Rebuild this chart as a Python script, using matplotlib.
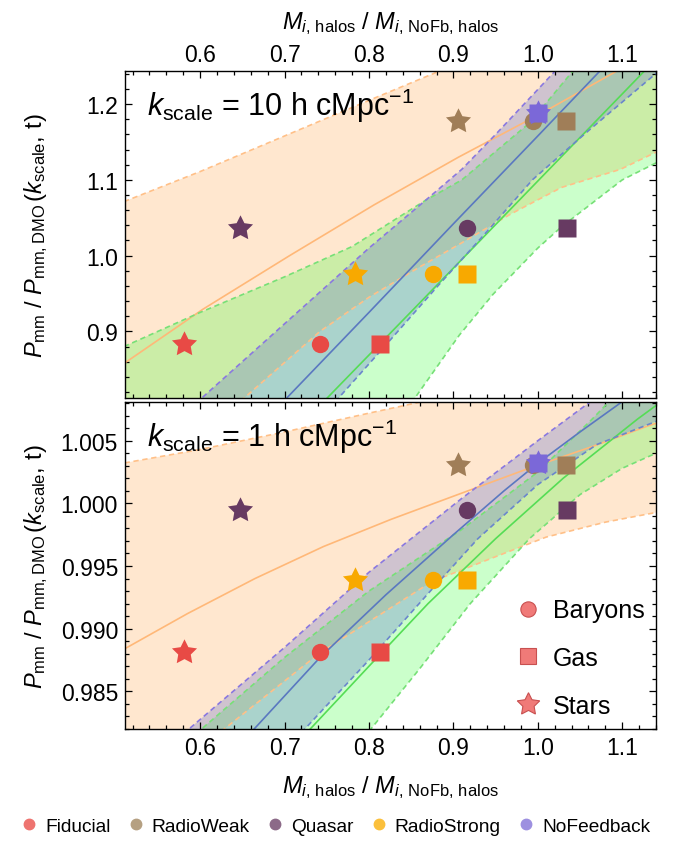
import matplotlib

matplotlib.use("Agg")
import matplotlib.pyplot as plt  # noqa: E402
from matplotlib.lines import Line2D  # noqa: E402
from matplotlib.ticker import MultipleLocator, FormatStrFormatter  # noqa: E402

plt.rcParams["font.family"] = ["Liberation Sans", "DejaVu Sans"]
plt.rcParams["mathtext.fontset"] = "custom"
plt.rcParams["mathtext.rm"] = "Liberation Sans"
plt.rcParams["mathtext.it"] = "Liberation Sans:italic"
plt.rcParams["mathtext.bf"] = "Liberation Sans:bold"

# ---- data ----
sims = ["Fiducial", "RadioWeak", "Quasar", "RadioStrong", "NoFeedback"]
sim_colors = ["#E84A45", "#A07E58", "#673A62", "#F8A900", "#7B68D8"]
sim_legend_colors = ["#EE7470", "#B5A082", "#8C6A88", "#FBC03C", "#9D90E0"]

# M_i,halos / M_i,NoFb,halos for each component
mass_baryons = [0.742, 0.994, 0.9165, 0.876, 1.0]
mass_gas = [0.813, 1.033, 1.034, 0.9165, 1.0]
mass_stars = [0.5805, 0.905, 0.6476, 0.7833, 1.0]

# P_mm / P_mm,DMO
ratio_k10 = [0.8828, 1.178, 1.0363, 0.9753, 1.1888]
ratio_k1 = [0.98815, 1.00306, 0.99946, 0.99392, 1.00324]

# fit curves + confidence bands, k = 10
k10_stars_up_x = [0.50, 0.60, 0.70, 0.80, 0.91]
k10_stars_up_y = [1.067, 1.111, 1.158, 1.205, 1.256]
k10_stars_mid_x = [0.50, 0.513, 0.603, 0.706, 0.806, 0.906, 1.006, 1.094, 1.11]
k10_stars_mid_y = [0.851, 0.860, 0.929, 1.000, 1.067, 1.130, 1.189, 1.244, 1.254]
k10_stars_lo_x = [0.64, 0.742, 0.80, 0.86, 0.907, 0.968, 1.028, 1.098, 1.15]
k10_stars_lo_y = [0.80, 0.90, 0.945, 0.985, 1.015, 1.055, 1.09, 1.114, 1.142]

k10_gas_up_x = [0.50, 0.60, 0.70, 0.78, 0.867, 0.91, 0.99, 1.05]
k10_gas_up_y = [0.875, 0.925, 0.972, 1.012, 1.073, 1.10, 1.175, 1.255]
k10_gas_mid_x = [0.74, 0.85, 0.95, 1.05, 1.15]
k10_gas_mid_y = [0.80, 0.926, 1.041, 1.156, 1.271]
k10_gas_lo_x = [0.85, 0.907, 0.947, 1.0, 1.028, 1.10, 1.15]
k10_gas_lo_y = [0.805, 0.895, 0.949, 1.01, 1.038, 1.10, 1.128]

k10_bar_up_x = [0.595, 0.70, 0.80, 0.867, 0.91, 0.95, 1.03]
k10_bar_up_y = [0.805, 0.91, 1.01, 1.073, 1.114, 1.16, 1.255]
k10_bar_mid_x = [0.70, 0.80, 0.90, 1.00, 1.09]
k10_bar_mid_y = [0.809, 0.925, 1.042, 1.158, 1.263]
k10_bar_lo_x = [0.76, 0.82, 0.88, 0.94, 0.994, 1.06, 1.15]
k10_bar_lo_y = [0.807, 0.882, 0.958, 1.032, 1.1005, 1.165, 1.25]

# fit curves + confidence bands, k = 1
k1_stars_up_x = [0.50, 0.60, 0.70, 0.80, 0.91]
k1_stars_up_y = [1.0031, 1.0043, 1.0057, 1.0072, 1.0088]
k1_stars_mid_x = [0.50, 0.513, 0.585, 0.665, 0.746, 0.826, 0.906, 0.986, 1.066, 1.130, 1.15]
k1_stars_mid_y = [0.9880, 0.98848, 0.99120, 0.99400, 0.99655, 0.99872, 1.00072, 1.00271,
                  1.00457, 1.00617, 1.0066]
k1_stars_lo_x = [0.625, 0.742, 0.875, 0.967, 1.01, 1.08, 1.15]
k1_stars_lo_y = [0.9818, 0.98807, 0.99377, 0.99619, 0.99731, 0.9985, 0.9994]

k1_gas_up_x = [0.595, 0.70, 0.80, 0.9095, 1.00, 1.064, 1.09]
k1_gas_up_y = [0.9816, 0.9877, 0.9930, 0.9979, 1.0025, 1.0067, 1.0085]
k1_gas_mid_x = [0.725, 0.80, 0.87, 0.95, 1.03, 1.118, 1.16]
k1_gas_mid_y = [0.9816, 0.9870, 0.9920, 0.99718, 1.0020, 1.00672, 1.0088]
k1_gas_lo_x = [0.80, 0.86, 0.92, 0.99, 1.05, 1.10, 1.15]
k1_gas_lo_y = [0.9818, 0.9868, 0.9920, 0.99718, 1.0007, 1.0028, 1.0043]

k1_bar_up_x = [0.58, 0.70, 0.80, 0.91, 1.00, 1.07]
k1_bar_up_y = [0.9816, 0.9885, 0.9945, 1.0004, 1.0050, 1.0085]
k1_bar_mid_x = [0.66, 0.742, 0.82, 0.90, 0.96, 1.00, 1.05, 1.11]
k1_bar_mid_y = [0.9817, 0.9877, 0.9927, 0.9975, 1.0010, 1.0032, 1.0057, 1.0086]
k1_bar_lo_x = [0.72, 0.80, 0.87, 0.929, 1.00, 1.07, 1.15]
k1_bar_lo_y = [0.9817, 0.9875, 0.9928, 0.99718, 1.0015, 1.0047, 1.0068]

# ---- style ----
STAR = (5, 1, 0)
ORANGE_FILL, ORANGE_LINE, ORANGE_DASH = "#FFA040", "#FFB878", "#FFC088"
GREEN_FILL, GREEN_LINE, GREEN_DASH = "#33FF33", "#55DD55", "#77E077"
BAR_FILL, BAR_LINE, BAR_UP, BAR_LO = "#6070D0", "#5A78C0", "#8A78E0", "#6A86CC"
DASHES = (3.2, 2.2)


def band(ax, ux, uy, lx, ly, far_lo, far_hi, color, alpha):
    xs = list(ux) + [far_hi[0]] + list(lx)[::-1] + [far_lo[0]]
    ys = list(uy) + [far_hi[1]] + list(ly)[::-1] + [far_lo[1]]
    ax.fill(xs, ys, color=color, alpha=alpha, lw=0, zorder=1)


def draw_panel(ax, curves, ratio, far_lo, far_hi):
    (s_up, s_mid, s_lo), (g_up, g_mid, g_lo), (b_up, b_mid, b_lo) = curves
    band(ax, *s_up, *s_lo, far_lo, far_hi, ORANGE_FILL, 0.25)
    band(ax, *g_up, *g_lo, far_lo, far_hi, GREEN_FILL, 0.25)
    band(ax, *b_up, *b_lo, far_lo, far_hi, BAR_FILL, 0.30)
    for (x, y), c, ls in [
        (s_up, ORANGE_DASH, "--"), (s_mid, ORANGE_LINE, "-"), (s_lo, ORANGE_DASH, "--"),
        (g_up, GREEN_DASH, "--"), (g_mid, GREEN_LINE, "-"), (g_lo, GREEN_DASH, "--"),
        (b_up, BAR_UP, "--"), (b_mid, BAR_LINE, "-"), (b_lo, BAR_LO, "--"),
    ]:
        ln, = ax.plot(x, y, color=c, lw=1.2, ls=ls, zorder=2)
        if ls == "--":
            ln.set_dashes(DASHES)
    for i in range(len(sims)):
        ax.plot(mass_baryons[i], ratio[i], "o", ms=12.5, color=sim_colors[i], mec="none", zorder=3)
        ax.plot(mass_gas[i], ratio[i], "s", ms=12.5, color=sim_colors[i], mec="none", zorder=3)
    for i in range(len(sims)):
        ax.plot(mass_stars[i], ratio[i], marker=STAR, ms=19, color=sim_colors[i], mec="none",
                ls="none", zorder=4)


fig = plt.figure(figsize=(6.81, 8.45), dpi=100)
W, H = 681, 845
L, R = 125, 656
ax1 = fig.add_axes([L / W, 1 - 399 / H, (R - L) / W, (399 - 72) / H])
ax2 = fig.add_axes([L / W, 1 - 730 / H, (R - L) / W, (730 - 403) / H])

draw_panel(
    ax1,
    [((k10_stars_up_x, k10_stars_up_y), (k10_stars_mid_x, k10_stars_mid_y), (k10_stars_lo_x, k10_stars_lo_y)),
     ((k10_gas_up_x, k10_gas_up_y), (k10_gas_mid_x, k10_gas_mid_y), (k10_gas_lo_x, k10_gas_lo_y)),
     ((k10_bar_up_x, k10_bar_up_y), (k10_bar_mid_x, k10_bar_mid_y), (k10_bar_lo_x, k10_bar_lo_y))],
    ratio_k10, (0.0, 0.0), (3.0, 3.0),
)
draw_panel(
    ax2,
    [((k1_stars_up_x, k1_stars_up_y), (k1_stars_mid_x, k1_stars_mid_y), (k1_stars_lo_x, k1_stars_lo_y)),
     ((k1_gas_up_x, k1_gas_up_y), (k1_gas_mid_x, k1_gas_mid_y), (k1_gas_lo_x, k1_gas_lo_y)),
     ((k1_bar_up_x, k1_bar_up_y), (k1_bar_mid_x, k1_bar_mid_y), (k1_bar_lo_x, k1_bar_lo_y))],
    ratio_k1, (0.0, 0.9), (3.0, 1.1),
)

ax1.set_xlim(0.511, 1.140)
ax2.set_xlim(0.511, 1.140)
ax1.set_ylim(0.812, 1.2438)
ax2.set_ylim(0.98199, 1.00809)

for ax in (ax1, ax2):
    ax.xaxis.set_major_locator(MultipleLocator(0.1))
    ax.xaxis.set_minor_locator(MultipleLocator(0.02))
    ax.xaxis.set_major_formatter(FormatStrFormatter("%.1f"))
    ax.tick_params(which="both", direction="in", top=True, right=True, width=0.9,
                   labelsize=16.5, colors="black")
    ax.tick_params(which="major", length=5)
    ax.tick_params(which="minor", length=3)
    for sp in ax.spines.values():
        sp.set_linewidth(1.0)

ax1.yaxis.set_major_locator(MultipleLocator(0.1))
ax1.yaxis.set_minor_locator(MultipleLocator(0.02))
ax1.yaxis.set_major_formatter(FormatStrFormatter("%.1f"))
ax2.yaxis.set_major_locator(MultipleLocator(0.005))
ax2.yaxis.set_minor_locator(MultipleLocator(0.001))
ax2.yaxis.set_major_formatter(FormatStrFormatter("%.3f"))

ax1.tick_params(axis="x", labeltop=True, labelbottom=False, pad=3.5)
ax2.tick_params(axis="x", pad=5)
ax1.tick_params(axis="y", pad=5)
ax2.tick_params(axis="y", pad=5)

xlab = r"$M_{i,\,\mathrm{halos}}\ /\ M_{i,\,\mathrm{NoFb,\,halos}}$"
ylab = r"$P_{\mathrm{mm}}\ /\ P_{\mathrm{mm,DMO}}\,(k_{\mathrm{scale}},\,\mathrm{t})$"
ax1.set_xlabel(xlab, fontsize=17)
ax1.xaxis.set_label_position("top")
ax1.xaxis.set_label_coords(0.5, 1.13)
ax2.set_xlabel(xlab, fontsize=17)
ax2.xaxis.set_label_coords(0.5, -0.135)
ax1.set_ylabel(ylab, fontsize=17)
ax2.set_ylabel(ylab, fontsize=17)
ax1.yaxis.set_label_coords(-0.142, 0.5)
ax2.yaxis.set_label_coords(-0.142, 0.5)

ax1.text(0.041, 0.866, r"$k_{\mathrm{scale}}$ = 10 h cMpc$^{-1}$", transform=ax1.transAxes,
         fontsize=22, va="baseline", ha="left", zorder=5)
ax2.text(0.041, 0.866, r"$k_{\mathrm{scale}}$ = 1 h cMpc$^{-1}$", transform=ax2.transAxes,
         fontsize=22, va="baseline", ha="left", zorder=5)

# component legend (inside lower panel)
comp_face, comp_edge = "#F07A78", "#C85050"
comp_handles = [
    Line2D([], [], ls="none", marker="o", ms=11, mfc=comp_face, mec=comp_edge, mew=0.8),
    Line2D([], [], ls="none", marker="s", ms=11, mfc=comp_face, mec=comp_edge, mew=0.8),
    Line2D([], [], ls="none", marker=STAR, ms=17, mfc=comp_face, mec=comp_edge, mew=0.8),
]
ax2.legend(comp_handles, ["Baryons", "Gas", "Stars"], loc="lower right", frameon=False,
           fontsize=18, labelspacing=0.95, handletextpad=0.5, borderaxespad=0.05,
           handlelength=1.0)

# simulation legend (bottom)
sim_handles = [Line2D([], [], ls="none", marker="o", ms=7.5, mfc=c, mec=c) for c in sim_legend_colors]
fig.legend(sim_handles, sims, loc="center", bbox_to_anchor=(0.493, 1 - 827 / H), ncol=5,
           frameon=False, fontsize=13.8, handlelength=0.8, handletextpad=0.45,
           columnspacing=0.9)

fig.savefig("out.png", dpi=100, facecolor="white")
